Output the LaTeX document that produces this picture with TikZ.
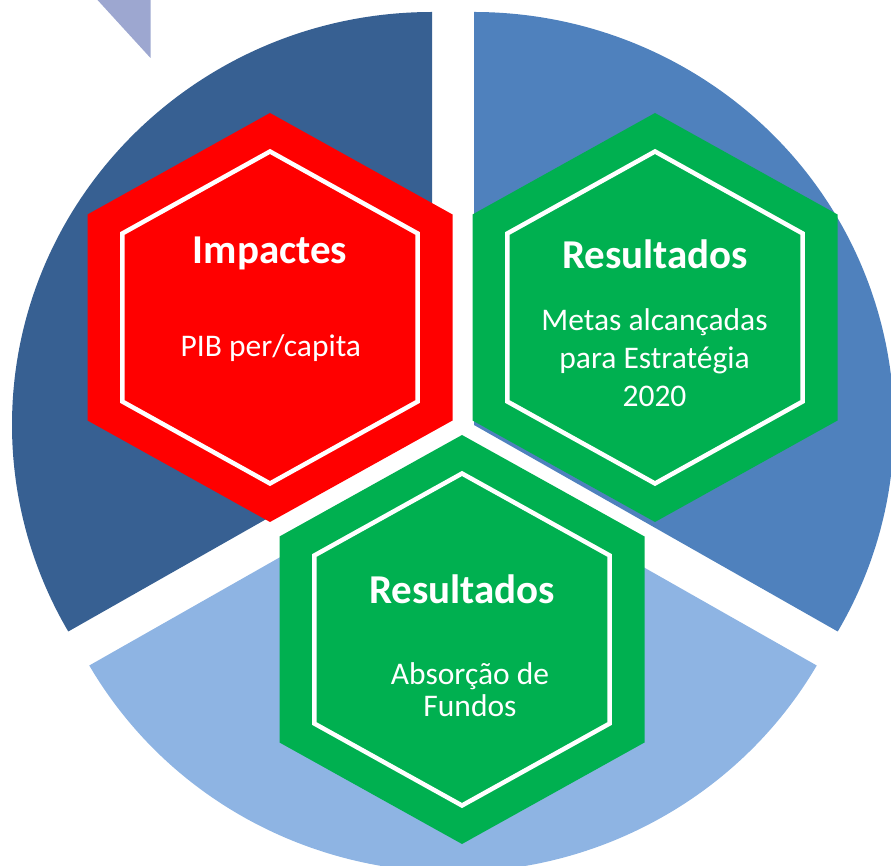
\documentclass[tikz,border=0pt]{standalone}
\usepackage{fontspec}
\setmainfont{Carlito}
\definecolor{piedark}{RGB}{55,96,146}
\definecolor{piemid}{RGB}{79,129,189}
\definecolor{pielight}{RGB}{142,180,227}
\definecolor{trilav}{RGB}{157,167,208}
\definecolor{hexred}{RGB}{255,0,0}
\definecolor{hexgreen}{RGB}{0,176,80}
\begin{document}
\begin{tikzpicture}[x=1pt,y=1pt,line join=miter,
	hexline/.style={draw=white,line width=4.5pt},
	hextitle/.style={anchor=base,inner sep=0pt,text=white,font=\bfseries\fontsize{41}{49}\selectfont},
	hextext/.style={anchor=base,inner sep=0pt,text=white,align=center,font=\fontsize{31.5}{38.3}\selectfont}]
	\def\rx{420} \def\ry{413} % semi-axes of the pie
	\useasboundingbox (0,0) rectangle (891,865);
	% exploded pie
	\fill[piedark] (432,440) -- +(90:\rx pt and \ry pt) arc[start angle=90,end angle=210,x radius=\rx,y radius=\ry] -- cycle;
	\fill[piemid] (474,440) -- +(-30:\rx pt and \ry pt) arc[start angle=-30,end angle=90,x radius=\rx,y radius=\ry] -- cycle;
	\fill[pielight] (453,406) -- +(210:\rx pt and \ry pt) arc[start angle=210,end angle=330,x radius=\rx,y radius=\ry] -- cycle;
	\fill[trilav] (97.5,865) -- (150.5,865) -- (150.5,807) -- cycle;
	% hexagons
	\foreach \cx/\cy/\col in {270/547.5/hexred,655/547.5/hexgreen,462/225.5/hexgreen}{
		\fill[\col] (\cx,\cy) +(0,204.5) -- +(182.5,103) -- +(182.5,-103) -- +(0,-204.5) -- +(-182.5,-103) -- +(-182.5,103) -- cycle;
		\draw[hexline] (\cx,\cy) +(0,166) -- +(147.7,84) -- +(147.7,-84) -- +(0,-166) -- +(-147.7,-84) -- +(-147.7,84) -- cycle;
	}
	\node[hextitle] (imp) at (270,601) {Impactes};
	\node[hextext] (pib) at (270.8,508.3) {PIB per/capita};
	\node[hextitle] (res1) at (655,596.7) {Resultados};
	\node[hextext] (metas) at (654.5,458.3) {Metas alcançadas\\para Estratégia\\2020};
	\node[hextitle] (res2) at (462,261) {Resultados};
	\node[hextext,font=\fontsize{31.5}{31.7}\selectfont] (fundos) at (470,149) {Absorção de\\Fundos};
\end{tikzpicture}
\end{document}
